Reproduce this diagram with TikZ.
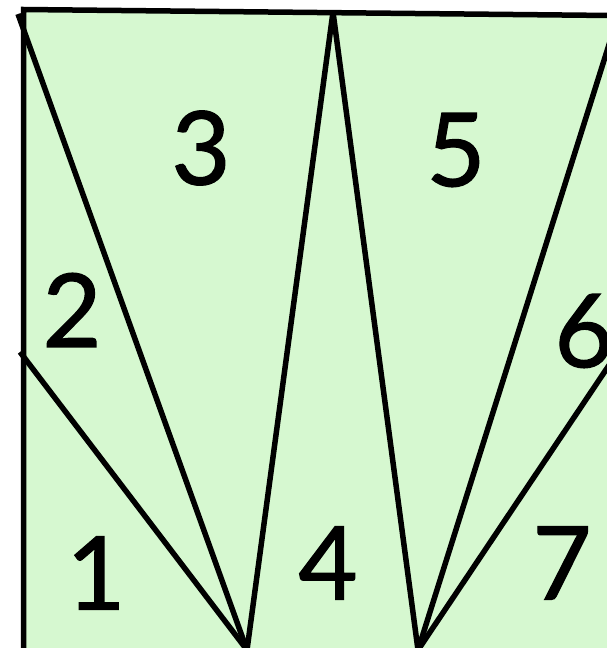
\documentclass[tikz,border=0pt]{standalone}
\usepackage{fontspec}
\setmainfont{Lato}
\newfontfamily\labfont[FakeBold=1.2]{Lato}
\definecolor{paleg}{RGB}{214,248,208}
\begin{document}
\begin{tikzpicture}[x=1pt,y=-1pt,
  edge/.style={line width=5.5pt,line cap=butt},
  lab/.style={font=\labfont\fontsize{102}{110}\selectfont,inner sep=0pt,anchor=center}]
\useasboundingbox (0,0) rectangle (607,648);
\clip (0,0) rectangle (607,648);
% vertices
\coordinate (C) at (23.5,9.5);
\coordinate (TL) at (18,14);
\coordinate (TM) at (333,12);
\coordinate (TR) at (618.5,14.5);
\coordinate (TE) at (660,16);
\coordinate (LM) at (20,352);
\coordinate (RMx) at (640,319);
\coordinate (BL) at (247,650);
\coordinate (BR) at (418,650);
\coordinate (LB) at (23.5,700);
% fill
\fill[paleg] (C) -- (TE) -- (660,700) -- (LB) -- cycle;
% frame
\draw[edge] (LB) -- (C) -- (TE);
% diagonals
\draw[edge] (LM) -- (BL);
\draw[edge] (TL) -- (BL);
\draw[edge] (TM) -- (BL);
\draw[edge] (TM) -- (BR);
\draw[edge] (TR) -- (BR);
\draw[edge] (RMx) -- (BR);
% labels
\node[lab] (n1) at (96,573) {1};
\node[lab] (n2) at (72,310) {2};
\node[lab] (n3) at (201,148) {3};
\node[lab] (n4) at (328,563) {4};
\node[lab] (n5) at (456,150) {5};
\node[lab] (n6) at (584,331) {6};
\node[lab] (n7) at (562,563) {7};
\end{tikzpicture}
\end{document}
